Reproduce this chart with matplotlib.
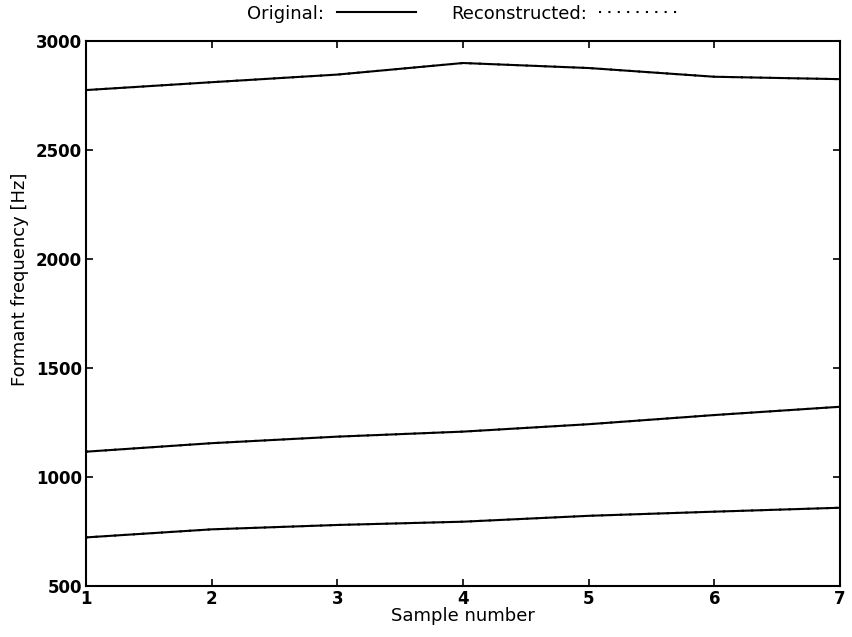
import matplotlib
matplotlib.use("Agg")
import matplotlib.pyplot as plt

plt.rcParams['font.family'] = ['DejaVu Sans']

samples = [1, 2, 3, 4, 5, 6, 7]

# formant tracks (Hz), original
f1_orig = [723, 760, 780, 795, 822, 841, 859]
f2_orig = [1116, 1155, 1185, 1208, 1242, 1284, 1322]
f3_orig = [2774, 2810, 2845, 2898, 2875, 2835, 2824]

# reconstructed tracks sit on top of the originals
f1_rec = [723, 760, 780, 795, 822, 841, 859]
f2_rec = [1116, 1155, 1185, 1208, 1242, 1284, 1322]
f3_rec = [2774, 2810, 2845, 2898, 2875, 2835, 2824]

yticks = [500, 1000, 1500, 2000, 2500, 3000]

fig = plt.figure(figsize=(8.52, 6.37), dpi=100)
ax = fig.add_axes([0.101, 0.080, 0.885, 0.856])

for k, (orig, rec) in enumerate([(f1_orig, f1_rec), (f2_orig, f2_rec), (f3_orig, f3_rec)]):
    ax.plot(samples, rec, color='black', lw=1.5, linestyle=(0, (1, 3.5)),
            label='Reconstructed:' if k == 0 else None)
    ax.plot(samples, orig, color='black', lw=1.5,
            label='Original:' if k == 0 else None)

ax.set_xlim(1, 7)
ax.set_ylim(500, 3000)
ax.set_xticks(samples)
ax.set_yticks(yticks)
ax.tick_params(direction='in', top=True, right=True, length=5, width=1.2,
               labelsize=12, pad=3)
for lab in ax.get_xticklabels() + ax.get_yticklabels():
    lab.set_fontweight('bold')
for sp in ax.spines.values():
    sp.set_linewidth(1.5)

ax.set_xlabel('Sample number', fontsize=13, labelpad=-1)
ax.set_ylabel('Formant frequency [Hz]', fontsize=13)
ax.yaxis.set_label_coords(-0.076, 0.563)

handles, labels = ax.get_legend_handles_labels()
order = [labels.index('Original:'), labels.index('Reconstructed:')]
leg = ax.legend([handles[i] for i in order], [labels[i] for i in order],
                loc='center', bbox_to_anchor=(0.5, 1.05), ncol=2,
                frameon=False, markerfirst=False, fontsize=13,
                handlelength=4.4, handletextpad=0.7, columnspacing=1.9,
                borderaxespad=0)

fig.savefig('out.png', dpi=100, facecolor='white')
